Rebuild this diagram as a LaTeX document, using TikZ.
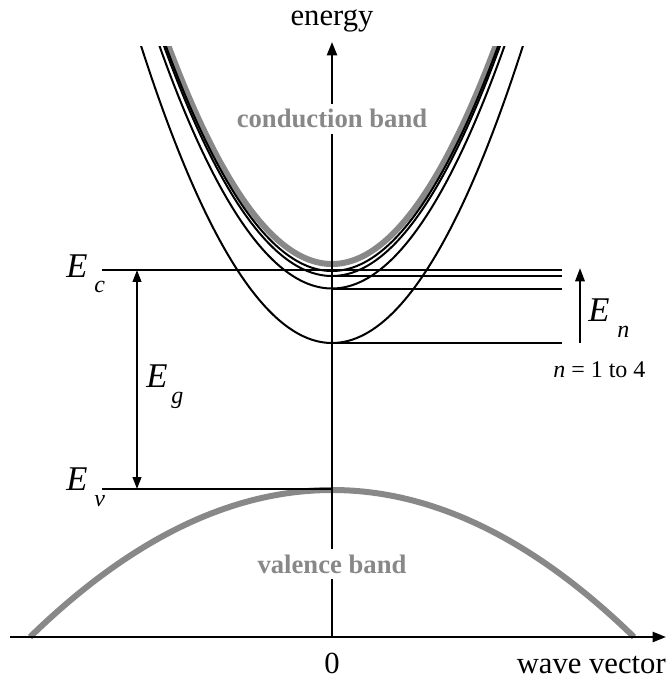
\documentclass[tikz,border=0pt]{standalone}
\usepackage{fontspec}
\setmainfont{Liberation Serif}
\usetikzlibrary{arrows.meta}
\definecolor{bandgray}{RGB}{136,136,136}
\begin{document}
\begin{tikzpicture}[x=0.75pt,y=-0.75pt,
  axis/.style={line width=1.7pt,-{Triangle[length=10pt,width=7.5pt]}},
  level/.style={line width=1.7pt},
  sub/.style={line width=1.5pt},
  band/.style={line width=4.5pt,color=bandgray},
  bigE/.style={anchor=base west,inner sep=0pt,font=\fontsize{26}{30}\selectfont\itshape},
  subs/.style={anchor=base west,inner sep=0pt,font=\fontsize{18}{20}\selectfont\itshape},
  axlabel/.style={inner sep=0pt,font=\fontsize{23}{26}\selectfont},
  bandlabel/.style={fill=white,inner sep=4pt,text=bandgray,font=\fontsize{20}{24}\selectfont\bfseries},
  dimarrow/.style={line width=1.5pt,{Triangle[length=9pt,width=6.5pt]}-{Triangle[length=9pt,width=6.5pt]}},
  uparrow/.style={line width=1.7pt,-{Triangle[length=10pt,width=7pt]}}]
\useasboundingbox (0,0) rectangle (666,680);

% coordinates
\coordinate (O) at (332,637);
\coordinate (xl) at (10,637);
\coordinate (xr) at (666,637);
\coordinate (yt) at (332,42);

% valence band
\draw[band] plot[domain=-3.02:3.02,samples=61,smooth] ({332+100*\x},{490+16.12*(\x)^2});

% conduction band and subbands
\begin{scope}
\clip (0,47) rectangle (666,680);
\draw[band] plot[domain=-1.8:1.8,samples=73,smooth] ({332+100*\x},{264-81.5*(\x)^2});
\foreach \v in {343,288.5,276,271}{
  \draw[sub] plot[domain=-2.05:2.05,samples=83,smooth] ({332+100*\x},{\v-81.5*(\x)^2});
}
\end{scope}

% axes
\draw[axis] (O) -- (yt);
\draw[axis] (xl) -- (xr);

% levels
\coordinate (Ecl) at (102,270);
\coordinate (Ecr) at (562,270);
\coordinate (Evl) at (102,489);
\coordinate (Evr) at (332,489);
\draw[level] (Ecl) -- (Ecr);
\draw[level] (Evl) -- (Evr);
\foreach \v/\n in {276/s3,289/s2,343/s1}{
  \coordinate (\n a) at (332,\v);
  \coordinate (\n b) at (562,\v);
  \draw[level] (\n a) -- (\n b);
}

% gap arrow
\coordinate (ga) at (137,270);
\coordinate (gb) at (137,489);
\draw[dimarrow] (ga) -- (gb);

% E_n arrow
\coordinate (na) at (580,343);
\coordinate (nb) at (580,268);
\draw[uparrow] (na) -- (nb);

% labels
\node[bigE] (EcE) at (66,277) {E};
\node[subs] (Ecs) at (94,293) {c};
\node[bigE] (EvE) at (66,490) {E};
\node[subs] (Evs) at (94,506) {v};
\node[bigE] (EgE) at (146,387) {E};
\node[subs] (Egs) at (171,403) {g};
\node[bigE] (EnE) at (588,321) {E};
\node[subs] (Ens) at (617,337) {n};
\node[anchor=base west,inner sep=0pt,font=\fontsize{18}{20}\selectfont] (nlab) at (553,377) {\textit{n} = 1 to 4};

\node[axlabel,anchor=base] (energy) at (332,26) {energy};
\node[axlabel,anchor=base] (zero) at (332,673) {0};
\node[axlabel,anchor=base east] (wv) at (666,673) {wave vector};

\node[bandlabel,anchor=base] (cb) at (332,128) {conduction band};
\node[bandlabel,anchor=base] (vb) at (332,573) {valence band};
\end{tikzpicture}
\end{document}
